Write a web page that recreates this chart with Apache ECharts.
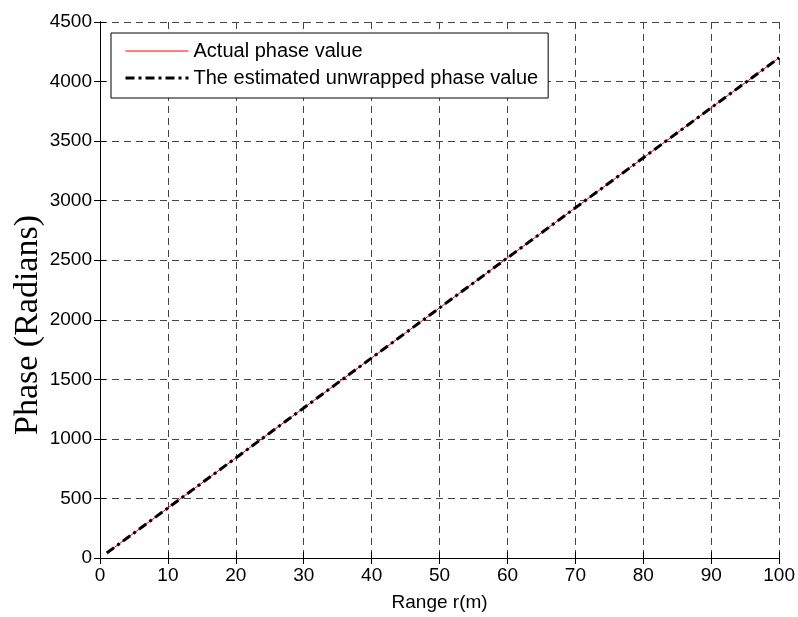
<!DOCTYPE html>
<html>
<head>
<meta charset="utf-8">
<script src="https://cdn.jsdelivr.net/npm/echarts@6/dist/echarts.min.js"></script>
<style>
  html, body { margin: 0; padding: 0; background: #fff; }
  #chart { width: 798px; height: 617px; }
</style>
</head>
<body>
<div id="chart"></div>
<script>
// Range samples in metres
const rangeM = [1, 5, 10, 15, 20, 25, 30, 35, 40, 45, 50, 55, 60, 65, 70, 75, 80, 85, 90, 95, 100];
// Phase of the received signal (radians)
const actualPhase = [42, 210, 420, 630, 840, 1050, 1260, 1470, 1680, 1890, 2100, 2310, 2520, 2730, 2940, 3150, 3360, 3570, 3780, 3990, 4200];
// Phase recovered by the unwrapping algorithm (radians)
const estimatedPhase = [42, 210, 420, 630, 840, 1050, 1260, 1470, 1680, 1890, 2100, 2310, 2520, 2730, 2940, 3150, 3360, 3570, 3780, 3990, 4200];

const seriesNames = ['Actual phase value', 'The estimated unwrapped phase value'];

const pairs = (xs, ys) => xs.map((x, i) => [x, ys[i]]);

const sans = 'Liberation Sans, Arial, sans-serif';
const serif = 'Liberation Serif, Times New Roman, serif';

const gridLine = { show: true, lineStyle: { color: '#444', width: 1, type: [7, 5] } };
const boxLine = { show: true, lineStyle: { color: '#000', width: 1 } };
const inTick = { show: true, inside: true, length: 6, lineStyle: { color: '#000', width: 1 } };
const plainNumber = v => String(v);

const chart = echarts.init(document.getElementById('chart'), null, { renderer: 'canvas' });

chart.setOption({
  backgroundColor: '#fff',
  animation: false,
  grid: { left: 100, top: 22, width: 680, height: 540, containLabel: false },
  legend: {
    left: 111,
    top: 33,
    orient: 'vertical',
    data: [
      { name: seriesNames[0], lineStyle: { width: 1 } },
      { name: seriesNames[1], lineStyle: { width: 3 } }
    ],
    itemWidth: 63,
    itemHeight: 14,
    itemGap: 7,
    padding: [8, 10, 10, 13],
    backgroundColor: '#fff',
    borderColor: '#000',
    borderWidth: 1,
    borderRadius: 0,
    itemStyle: { opacity: 0 },
    textStyle: { fontFamily: sans, fontSize: 20, color: '#000', lineHeight: 20 }
  },
  xAxis: [
    {
      type: 'value', min: 0, max: 100, interval: 10,
      axisLine: boxLine, axisTick: inTick, splitLine: gridLine,
      axisLabel: { fontFamily: sans, fontSize: 19, color: '#000', margin: 8, formatter: plainNumber },
      name: 'Range r(m)', nameLocation: 'middle', nameGap: 35,
      nameTextStyle: { fontFamily: sans, fontSize: 19, color: '#000' }
    },
    {
      type: 'value', min: 0, max: 100, interval: 10, position: 'top',
      axisLine: boxLine, axisTick: inTick, splitLine: { show: false },
      axisLabel: { show: false }
    }
  ],
  yAxis: [
    {
      type: 'value', min: 0, max: 4500, interval: 500,
      axisLine: boxLine, axisTick: inTick, splitLine: gridLine,
      axisLabel: { fontFamily: sans, fontSize: 19, color: '#000', margin: 8, formatter: plainNumber }
    },
    {
      type: 'value', min: 0, max: 4500, interval: 500, position: 'right',
      axisLine: boxLine, axisTick: inTick, splitLine: { show: false },
      axisLabel: { show: false }
    }
  ],
  graphic: [
    {
      type: 'text',
      x: 28, y: 325,
      rotation: Math.PI / 2,
      style: {
        text: 'Phase (Radians)',
        fontFamily: serif, fontSize: 34, fill: '#000',
        align: 'center', verticalAlign: 'middle'
      }
    }
  ],
  series: [
    {
      name: seriesNames[0], type: 'line', symbol: 'none',
      data: pairs(rangeM, actualPhase),
      lineStyle: { color: '#ff0000', width: 1 },
      itemStyle: { color: '#ff0000' },
      z: 2
    },
    {
      name: seriesNames[1], type: 'line', symbol: 'none',
      data: pairs(rangeM, estimatedPhase),
      lineStyle: { color: '#000', width: 3, type: [9, 4, 3, 4] },
      itemStyle: { color: '#000' },
      z: 3
    }
  ]
});
</script>
</body>
</html>
